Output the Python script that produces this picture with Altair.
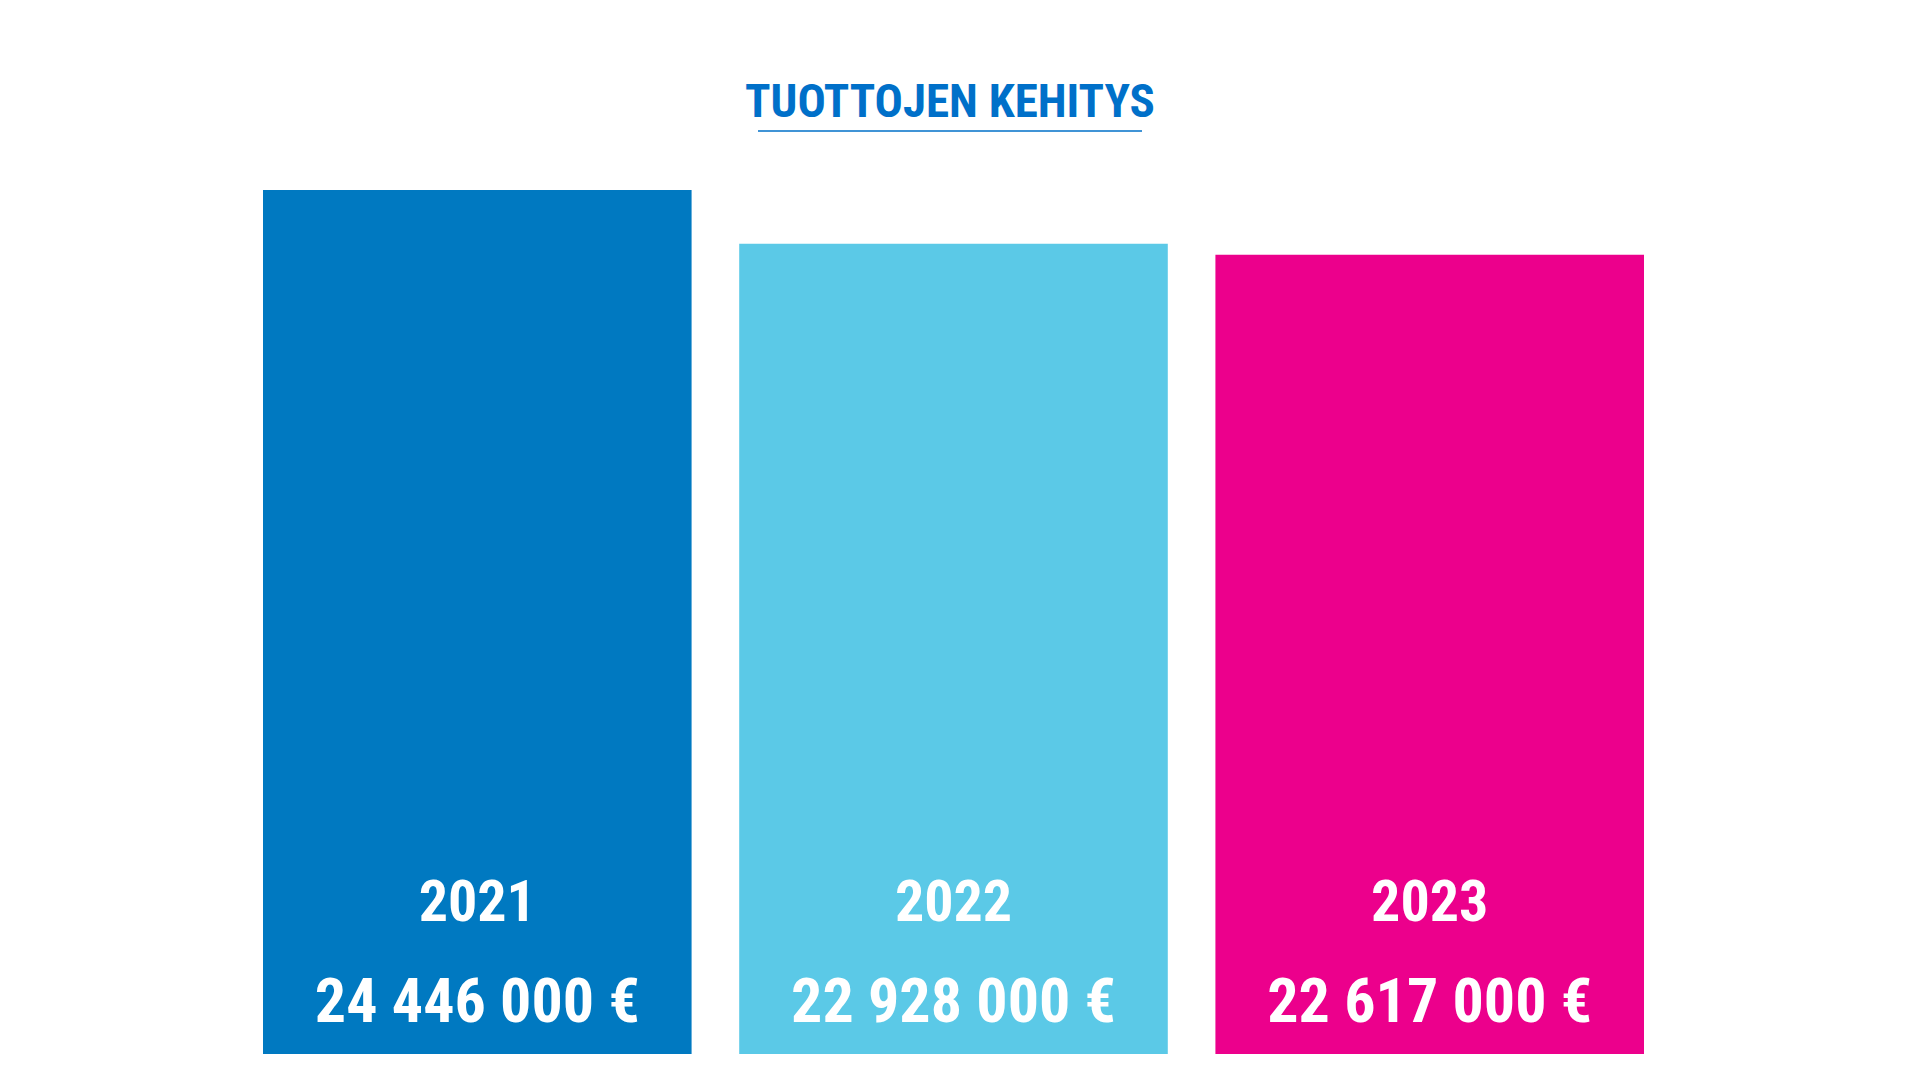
import altair as alt
import pandas as pd

years = ["2021", "2022", "2023"]
values = [24446000, 22928000, 22617000]
colors = ["#0079C1", "#5BC9E7", "#EC008C"]
title_text = "TUOTTOJEN KEHITYS"

def fmt(v):
    return f"{v:,}".replace(",", " ") + " €"

df = pd.DataFrame({
    "year": years,
    "value": values,
    "label": [fmt(v) for v in values],
})

FONT = "Liberation Sans Narrow, Roboto Condensed, DejaVu Sans Condensed, sans-serif"

x = alt.X("year:N", sort=years, axis=None,
          scale=alt.Scale(paddingInner=0.1, paddingOuter=0))
y = alt.Y("value:Q", axis=None, scale=alt.Scale(domain=[0, 24446000], nice=False, zero=True))

bars = alt.Chart(df).mark_bar().encode(
    x=x, y=y,
    color=alt.Color("year:N", scale=alt.Scale(domain=years, range=colors), legend=None),
)

year_text = alt.Chart(df).mark_text(
    font=FONT, fontWeight="bold", fontSize=58, color="white",
    baseline="alphabetic", align="center",
).encode(x=x, y=alt.value(731), text="year:N")

val_text = alt.Chart(df).mark_text(
    font=FONT, fontWeight="bold", fontSize=62, color="white",
    baseline="alphabetic", align="center",
).encode(x=x, y=alt.value(832), text="label:N")

title = alt.Chart(df).transform_filter("datum.year == '2021'").mark_text(
    font=FONT, fontWeight="bold", fontSize=47, color="#0070C9",
    baseline="alphabetic", align="center",
).encode(x=alt.value(687), y=alt.value(-73), text=alt.value(title_text))

underline = alt.Chart(df).transform_filter("datum.year == '2021'").mark_rule(
    color="#0070C9", strokeWidth=1.5,
).encode(x=alt.value(495), x2=alt.value(879), y=alt.value(-59))

chart = alt.layer(bars, year_text, val_text, title, underline).properties(
    width=1381, height=864,
    background="white",
    autosize=alt.AutoSizeParams(type="none"),
    padding={"left": 255, "top": 182, "right": 0, "bottom": 0},
).configure_view(stroke=None, strokeWidth=0)

chart.save("out.html", embed_options={"renderer": "svg", "actions": False})
